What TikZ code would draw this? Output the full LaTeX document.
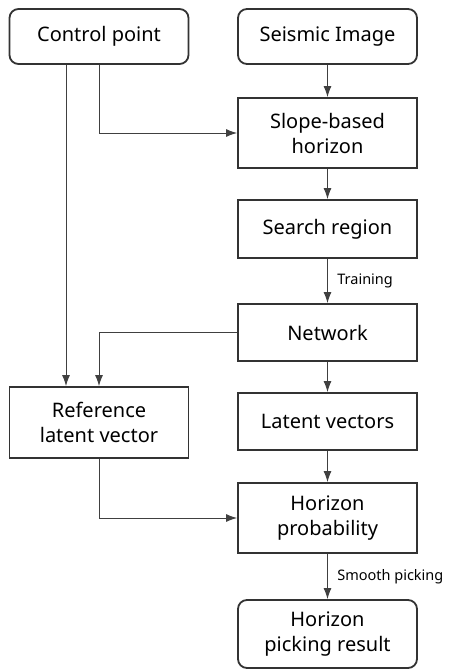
\documentclass[tikz,border=0pt]{standalone}
\usepackage{fontspec}
\setmainfont{Noto Sans}
\usetikzlibrary{arrows.meta}

\begin{document}
\begin{tikzpicture}[x=1pt,y=-1pt,
    blk/.style={draw=black!80,line width=1.8pt,minimum width=179pt,align=center,
      font=\fontsize{20}{25}\selectfont},
    rblk/.style={blk,rounded corners=9pt},
    arr/.style={draw=black!75,line width=1pt,-{Latex[length=11pt,width=8pt]}},
    lbl/.style={font=\fontsize{14.5}{17}\selectfont,right=6pt}]
      \useasboundingbox (0,0) rectangle (456,669);
      \node[rblk,minimum height=55pt] (ctrl) at (99,36.5) {Control point};
      \node[rblk,minimum height=55pt] (seis) at (327.5,36.5) {Seismic Image};
      \node[blk,minimum height=70pt] (slope) at (327.5,133) {Slope-based\\horizon};
      \node[blk,minimum height=58pt] (search) at (327.5,229) {Search region};
      \node[blk,minimum height=57pt] (net) at (327.5,332.5) {Network};
      \node[blk,minimum height=71pt] (ref) at (99,422.5) {Reference\\latent vector};
      \node[blk,minimum height=57pt] (lat) at (327.5,421.5) {Latent vectors};
      \node[blk,minimum height=70pt] (prob) at (327.5,518) {Horizon\\probability};
      \node[rblk,minimum height=68pt] (res) at (327.5,634) {Horizon\\picking result};
      \draw[arr] (seis) -- (slope);
      \draw[arr] (ctrl.south) |- (slope.west);
      \draw[arr] ([xshift=-33pt]ctrl.south) -- ([xshift=-33pt]ref.north);
      \draw[arr] (slope) -- (search);
      \draw[arr] (search) -- node[lbl]{Training} (net);
      \draw[arr] (net.west) -| (ref.north);
      \draw[arr] (net) -- (lat);
      \draw[arr] (lat) -- (prob);
      \draw[arr] (ref.south) |- (prob.west);
      \draw[arr] (prob) -- node[lbl]{Smooth picking} (res);
    \end{tikzpicture}
\end{document}
